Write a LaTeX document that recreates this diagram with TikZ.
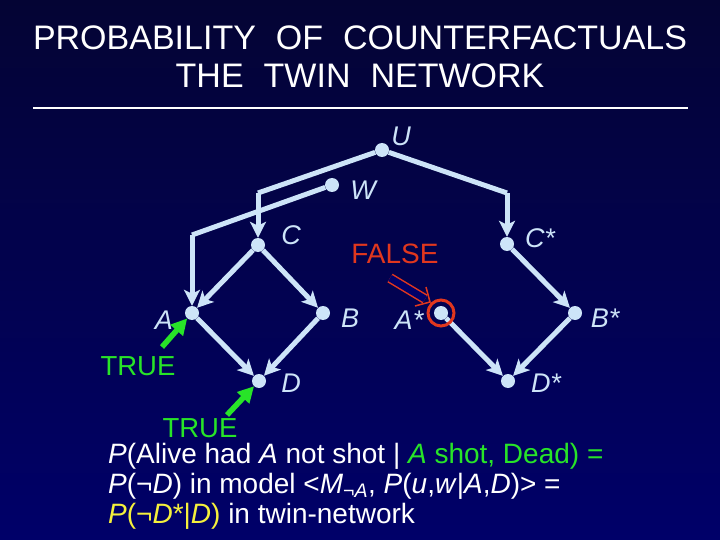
\documentclass[tikz,border=0pt]{standalone}
\usepackage{fontspec}
\setmainfont{Liberation Sans}
\usetikzlibrary{arrows.meta}

\definecolor{bgtop}{RGB}{4,4,52}
\definecolor{bgbot}{RGB}{0,0,105}
\definecolor{netblue}{RGB}{205,228,248}
\definecolor{truegreen}{RGB}{40,228,40}
\definecolor{falsered}{RGB}{225,55,30}
\definecolor{evyellow}{RGB}{245,240,60}

\tikzset{
  dot/.style={circle, fill=netblue, inner sep=0pt, minimum size=14pt},
  lbl/.style={text=netblue, font=\fontsize{27}{30}\selectfont\itshape, inner sep=0pt},
  edge/.style={draw=netblue, line width=5pt, -{Stealth[length=16pt,width=16pt,inset=4pt]}},
  wire/.style={draw=netblue, line width=5pt},
  obs/.style={draw=truegreen, line width=5.5pt, -{Triangle[length=16pt,width=16pt]}},
  valtrue/.style={text=truegreen, font=\fontsize{27.5}{30}\selectfont, inner sep=0pt},
  txtline/.style={text=white, font=\fontsize{28}{30}\selectfont, inner sep=0pt, anchor=base west},
  heading/.style={text=white, font=\fontsize{34}{36}\selectfont, inner sep=0pt},
}

\begin{document}
\begin{tikzpicture}[x=1pt,y=-1pt]
    \useasboundingbox (0,0) rectangle (720,540);
    \shade[top color=bgtop, bottom color=bgbot] (0,0) rectangle (720,540);

    % title
    \node[heading] (title1) at (360,38) {PROBABILITY\hspace{20pt}OF\hspace{20pt}COUNTERFACTUALS};
    \node[heading] (title2) at (360,76) {THE\hspace{20pt}TWIN\hspace{20pt}NETWORK};
    \coordinate (ruleL) at (33,108);
    \coordinate (ruleR) at (688,108);
    \draw[white, line width=1.2pt] (ruleL) -- (ruleR);

    % factual network
    \node[dot] (U) at (382,150) {};
    \node[dot] (W) at (332,185) {};
    \node[dot] (C) at (258,245) {};
    \node[dot] (A) at (192,313) {};
    \node[dot] (B) at (323,313) {};
    \node[dot] (D) at (259,381) {};

    % twin network
    \node[dot] (Cs) at (507,244) {};
    \node[dot] (As) at (441,313) {};
    \node[dot] (Bs) at (575,313) {};
    \node[dot] (Ds) at (508,381) {};

    \node[lbl] (labU) at (401,136) {U};
    \node[lbl] (labW) at (363,190) {W};
    \node[lbl] (labC) at (291,235) {C};
    \node[lbl] (labA) at (164,320) {A};
    \node[lbl] (labB) at (350,318) {B};
    \node[lbl] (labD) at (291,383) {D};
    \node[lbl] (labCs) at (540,238) {C*};
    \node[lbl] (labAs) at (409,320) {A*};
    \node[lbl] (labBs) at (605,318) {B*};
    \node[lbl] (labDs) at (546,383) {D*};

    \coordinate (kC) at (258,193);
    \coordinate (kA) at (192,235);
    \coordinate (kCs) at (507,193);

    \draw[wire] (U) -- (kC);
    \draw[edge] (kC) -- (C);
    \draw[wire] (U) -- (kCs);
    \draw[edge] (kCs) -- (Cs);
    \draw[wire] (W) -- (kA);
    \draw[edge] (kA) -- (A);
    \draw[edge] (C) -- (A);
    \draw[edge] (C) -- (B);
    \draw[edge] (A) -- (D);
    \draw[edge] (B) -- (D);
    \draw[edge] (Cs) -- (Bs);
    \draw[edge] (As) -- (Ds);
    \draw[edge] (Bs) -- (Ds);

    % evidence
    \node[valtrue] (trueA) at (138,366) {TRUE};
    \node[valtrue] (trueD) at (200,428) {TRUE};
    \coordinate (obsA) at (162,347);
    \coordinate (obsD) at (227,415);
    \draw[obs] (obsA) -- (A);
    \draw[obs] (obsD) -- (D);

    % intervention
    \node[text=falsered, font=\fontsize{28}{30}\selectfont, inner sep=0pt] (false) at (395,254) {FALSE};
    \node[circle, draw=falsered, line width=3pt, minimum size=26pt, inner sep=0pt] (ring) at (As) {};
    \coordinate (doS) at (390,278);
    \coordinate (doE) at (425,299);
    \coordinate (doTip) at (430,302);
    \coordinate (barbL) at (415,306);
    \coordinate (barbR) at (426,287);
    \draw[falsered, line width=1.5pt, double=bgbot, double distance=7pt] (doS) -- (doE);
    \draw[falsered, line width=1.5pt, line join=miter] (barbR) -- (doTip) -- (barbL);

    % query text
    \node[txtline] (q1) at (108,463)
        {\textit{P}(Alive had \textit{A} not shot | \textcolor{truegreen}{\textit{A} shot, Dead) =}};
    \node[txtline] (q2) at (108,493)
        {\textit{P}(¬\textit{D}) in model <\textit{M}\textsubscript{¬\textit{A}}, \textit{P}(\textit{u},\textit{w}|\textit{A},\textit{D})> =};
    \node[txtline] (q3) at (108,523)
        {\textcolor{evyellow}{\textit{P}(¬\textit{D}*|\textit{D})} in twin-network};
\end{tikzpicture}
\end{document}
